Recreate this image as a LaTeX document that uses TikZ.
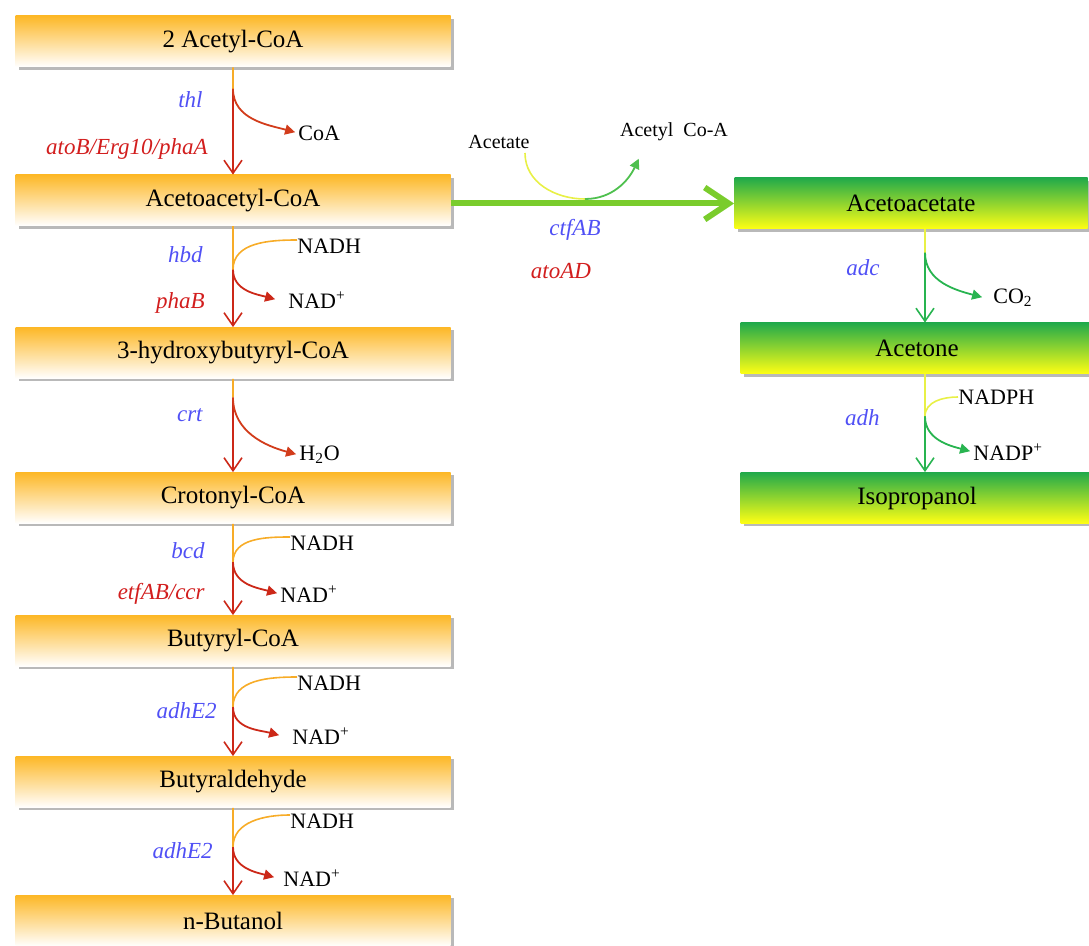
\documentclass[tikz,border=0pt]{standalone}
\usepackage{fontspec}
\setmainfont{Liberation Serif}
\usetikzlibrary{arrows.meta, shadows, calc, positioning}
\definecolor{boxorange}{RGB}{253,184,39}
\definecolor{boxgreen}{RGB}{34,170,74}
\definecolor{boxyellow}{RGB}{255,255,20}
\definecolor{linered}{RGB}{204,40,24}
\definecolor{lineorange}{RGB}{247,172,40}
\definecolor{linegreen}{RGB}{40,180,80}
\definecolor{lineyellow}{RGB}{232,240,70}
\definecolor{arrowgreen}{RGB}{122,204,44}
\definecolor{geneblue}{RGB}{80,80,245}
\definecolor{genered}{RGB}{210,30,30}
\tikzset{
  box/.style={rectangle, minimum height=25.5pt, inner sep=0pt,
    drop shadow={shadow xshift=1.5pt, shadow yshift=-1.5pt, opacity=0.55},
    font=\fontsize{12.5}{15}\selectfont},
  obox/.style={box, minimum width=217.5pt, top color=boxorange, bottom color=white},
  gbox/.style={box, minimum width=176.5pt, top color=boxgreen, bottom color=boxyellow},
  mol/.style={font=\fontsize{11}{13}\selectfont, inner sep=0pt, anchor=west},
  small/.style={font=\fontsize{10}{12}\selectfont, inner sep=0pt},
  bluegene/.style={text=geneblue, font=\fontsize{11.5}{14}\selectfont\itshape, inner sep=0pt, anchor=east},
  redgene/.style={bluegene, text=genered},
  stem/.style={line width=0.8pt},
  tip/.style={-{Straight Barb[length=6.5pt,width=9pt]}},
  side/.style={line width=0.9pt, -{Triangle[length=5pt,width=5pt]}, shorten >=1.5pt},
  big/.style={line width=3pt, arrowgreen, -{Straight Barb[length=12pt,width=16pt]}}
}

\begin{document}
\begin{tikzpicture}[x=0.5pt, y=-0.5pt]
\useasboundingbox (0,0) rectangle (1089,946);
\clip (0,0) rectangle (1089,946);

% butanol branch
\node[obox] (acoa) at (233,41.5) {2 Acetyl-CoA};
\node[obox] (aacoa) at (233,200.5) {Acetoacetyl-CoA};
\node[obox] (hbcoa) at (233,353) {3-hydroxybutyryl-CoA};
\node[obox] (ccoa) at (233,498) {Crotonyl-CoA};
\node[obox] (bcoa) at (233,641) {Butyryl-CoA};
\node[obox] (bald) at (233,782) {Butyraldehyde};
\node[obox] (buoh) at (233,921) {n-Butanol};

% isopropanol branch
\node[gbox] (aa) at (911,203.5) {Acetoacetate};
\node[gbox] (ace) at (917,348.5) {Acetone};
\node[gbox] (ipa) at (917,498) {Isopropanol};

% thl
\node[bluegene] (thl) at (203,100) {thl};
\node[redgene] (atob) at (208,149) {atoB/Erg10/phaA};
\node[mol] (coa) at (298,133) {CoA};
\coordinate (j1) at ($(acoa.south)!0.2!(aacoa.north)$);
\draw[stem, lineorange] (acoa.south) -- (j1);
\draw[stem, tip, linered] (j1) -- (aacoa.north);
\draw[side, linered!85!lineorange] (j1) to[out=-90, in=165] (coa.west);

% hbd
\node[bluegene] (hbd) at (203,255) {hbd};
\node[redgene] (phab) at (205,303) {phaB};
\node[mol] (nadh2) at (297,246) {NADH};
\node[mol] (nad2) at (288,300) {NAD\textsuperscript{+}};
\coordinate (j2) at ($(aacoa.south)!0.43!(hbcoa.north)$);
\draw[stem, lineorange] (aacoa.south) -- (j2);
\draw[stem, tip, linered] (j2) -- (hbcoa.north);
\draw[stem, lineorange] ([yshift=3pt]nadh2.west) to[out=180, in=90] (j2);
\draw[side, linered] (j2) to[out=-90, in=165] ([xshift=-5pt]nad2.west);

% crt
\node[bluegene] (crt) at (203,415) {crt};
\node[mol] (h2o) at (299,455) {H\textsubscript{2}O};
\coordinate (j3) at ($(hbcoa.south)!0.2!(ccoa.north)$);
\draw[stem, lineorange] (hbcoa.south) -- (j3);
\draw[stem, tip, linered] (j3) -- (ccoa.north);
\draw[side, linered!85!lineorange] (j3) to[out=-90, in=165] (h2o.west);

% bcd
\node[bluegene] (bcd) at (205,551) {bcd};
\node[redgene] (etf) at (205,594) {etfAB/ccr};
\node[mol] (nadh4) at (290,543) {NADH};
\node[mol] (nad4) at (280,594) {NAD\textsuperscript{+}};
\coordinate (j4) at ($(ccoa.south)!0.42!(bcoa.north)$);
\draw[stem, lineorange] (ccoa.south) -- (j4);
\draw[stem, tip, linered] (j4) -- (bcoa.north);
\draw[stem, lineorange] ([yshift=3pt]nadh4.west) to[out=180, in=90] (j4);
\draw[side, linered] (j4) to[out=-90, in=165] (nad4.west);

% adhE2
\node[bluegene] (adhe1) at (217,711) {adhE2};
\node[mol] (nadh5) at (297,683) {NADH};
\node[mol] (nad5) at (292,736) {NAD\textsuperscript{+}};
\coordinate (j5) at ($(bcoa.south)!0.45!(bald.north)$);
\draw[stem, lineorange] (bcoa.south) -- (j5);
\draw[stem, tip, linered] (j5) -- (bald.north);
\draw[stem, lineorange] ([yshift=3pt]nadh5.west) to[out=180, in=90] (j5);
\draw[side, linered] (j5) to[out=-90, in=165] ([xshift=-5pt]nad5.west);

% adhE2
\node[bluegene] (adhe2) at (213,851) {adhE2};
\node[mol] (nadh6) at (290,821) {NADH};
\node[mol] (nad6) at (283,878) {NAD\textsuperscript{+}};
\coordinate (j6) at ($(bald.south)!0.45!(buoh.north)$);
\draw[stem, lineorange] (bald.south) -- (j6);
\draw[stem, tip, linered] (j6) -- (buoh.north);
\draw[stem, lineorange] ([yshift=3pt]nadh6.west) to[out=180, in=90] (j6);
\draw[side, linered] (j6) to[out=-90, in=165] ([xshift=-3pt]nad6.west);

% ctfAB / atoAD
\node[small] (acetate) at (499,142) {Acetate};
\node[small] (acetyl) at (674,132) {Acetyl\ \ Co-A};
\node[bluegene, anchor=center] (ctf) at (575,230) {ctfAB};
\node[redgene, anchor=center] (ato) at (561,271) {atoAD};
\coordinate (ac1) at (525,153);
\coordinate (ac2) at (585,199);
\coordinate (ac3) at (640,156);
\draw[big] (aacoa.east |- aa.west) -- (aa.west);
\draw[stem, lineyellow] (ac1) to[out=-90, in=180] (ac2);
\draw[side, linegreen!80!lineyellow] (ac2) to[out=0, in=-115] (ac3);

% adc
\node[bluegene] (adc) at (880,268) {adc};
\node[mol] (co2) at (993,298) {CO\textsubscript{2}};
\coordinate (s7) at ([xshift=4pt]aa.south -| ace.north);
\coordinate (e7) at ([xshift=4pt]ace.north);
\coordinate (j7) at ($(s7)!0.25!(e7)$);
\draw[stem, lineyellow] (s7) -- (j7);
\draw[stem, tip, linegreen] (j7) -- (e7);
\draw[side, linegreen] (j7) to[out=-90, in=165] ([xshift=-4pt]co2.west);

% adh
\node[bluegene] (adh) at (880,418) {adh};
\node[mol] (nadph) at (958,397) {NADPH};
\node[mol] (nadp) at (973,452) {NADP\textsuperscript{+}};
\coordinate (s8) at ([xshift=4pt]ace.south);
\coordinate (e8) at ([xshift=4pt]ipa.north);
\coordinate (j8) at ($(s8)!0.43!(e8)$);
\draw[stem, lineyellow] (s8) -- (j8);
\draw[stem, tip, linegreen] (j8) -- (e8);
\draw[stem, lineyellow] (nadph.west) to[out=180, in=90] (j8);
\draw[side, linegreen] (j8) to[out=-90, in=165] (nadp.west);
\end{tikzpicture}
\end{document}
